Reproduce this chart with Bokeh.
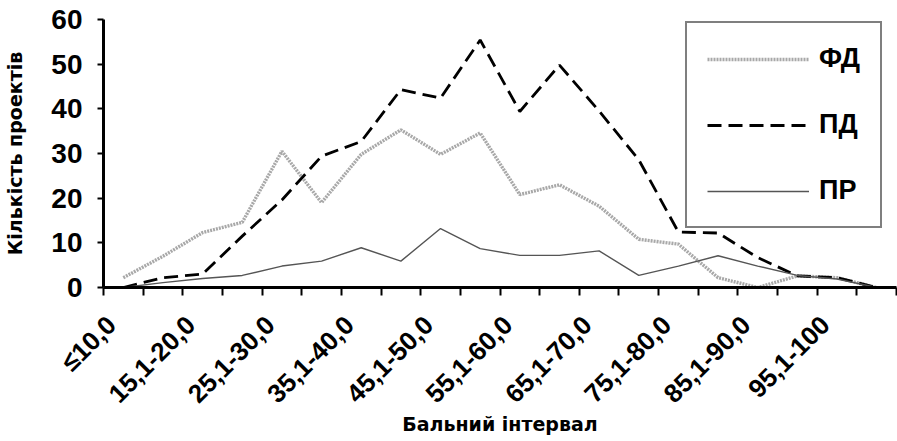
import math
from bokeh.plotting import figure
from bokeh.models import Range1d, FixedTicker, LinearAxis, Legend, LegendItem
from bokeh.embed import file_html
from bokeh.resources import INLINE

# Score intervals (x categories)
categories = ["≤10,0", "10,1-15,0", "15,1-20,0", "20,1-25,0", "25,1-30,0",
              "30,1-35,0", "35,1-40,0", "40,1-45,0", "45,1-50,0", "50,1-55,0",
              "55,1-60,0", "60,1-65,0", "65,1-70,0", "70,1-75,0", "75,1-80,0",
              "80,1-85,0", "85,1-90,0", "90,1-95,0", "95,1-100", ">100"]

# Number of projects per interval
fd = [2.2, 7.0, 12.3, 14.6, 30.5, 19.0, 29.8, 35.3, 29.8, 34.6,
      20.8, 23.0, 18.2, 10.8, 9.7, 2.2, 0.0, 2.6, 2.2, 0.0]
pdd = [0.0, 2.2, 3.0, 11.5, 19.6, 29.4, 32.7, 44.3, 42.4, 55.4,
       39.4, 49.8, 39.5, 28.6, 12.4, 12.2, 6.7, 2.6, 2.2, 0.0]
pr = [0.0, 1.1, 2.0, 2.7, 4.8, 5.9, 8.9, 5.9, 13.2, 8.7,
      7.2, 7.2, 8.2, 2.7, 4.8, 7.1, 4.8, 2.7, 1.9, 0.0]

series_names = ["ФД", "ПД", "ПР"]
y_ticks = [0, 10, 20, 30, 40, 50, 60]
label_every = 2

n = len(categories)
xs = list(range(n))

p = figure(width=897, height=438, output_backend="svg", toolbar_location=None,
           x_range=Range1d(-0.5, n - 0.5), y_range=Range1d(0, 60),
           min_border_left=103, min_border_right=1, min_border_top=19,
           min_border_bottom=150)
p.xgrid.visible = False
p.ygrid.visible = False
p.outline_line_color = None
p.background_fill_color = "white"

r_fd = p.line(xs, fd, line_color="#a8a8a8", line_width=3.4, line_dash="2 1")
r_pd = p.line(xs, pdd, line_color="black", line_width=2.8, line_dash="14 7")
r_pr = p.line(xs, pr, line_color="#555555", line_width=1.4)

# y axis
ya = p.yaxis[0]
ya.ticker = FixedTicker(ticks=y_ticks)
ya.axis_line_width = 3
ya.axis_line_color = "black"
ya.major_tick_line_color = "black"
ya.major_tick_line_width = 2
ya.major_tick_out = 6
ya.major_tick_in = 0
ya.minor_tick_out = 0
ya.minor_tick_in = 0
ya.major_label_standoff = 15
ya.major_label_text_color = "black"
ya.major_label_text_font = "Liberation Sans"
ya.major_label_text_font_style = "bold"
ya.major_label_text_font_size = "28px"
ya.axis_label = "Кількість проектів"
ya.axis_label_text_color = "black"
ya.axis_label_text_font = "DejaVu Sans"
ya.axis_label_text_font_style = "bold"
ya.axis_label_text_font_size = "19px"
ya.axis_label_standoff = 22

# x axis: tick marks between categories
xa = p.xaxis[0]
xa.ticker = FixedTicker(ticks=[i - 0.5 for i in range(n + 1)])
xa.axis_line_width = 3
xa.axis_line_color = "black"
xa.major_tick_line_color = "black"
xa.major_tick_line_width = 2
xa.major_tick_out = 8
xa.major_tick_in = 0
xa.minor_tick_out = 0
xa.minor_tick_in = 0
xa.major_label_text_font_size = "0px"
xa.major_label_text_alpha = 0
xa.major_label_standoff = 0

# second x axis: category labels (every second category)
lab_idx = list(range(0, n, label_every))
lab_ticks = [i - 0.3 for i in lab_idx]
ax2 = LinearAxis(ticker=FixedTicker(ticks=lab_ticks),
                 major_label_overrides={t: categories[i] for t, i in zip(lab_ticks, lab_idx)},
                 major_label_orientation=math.pi / 4,
                 major_tick_out=0, major_tick_in=0,
                 minor_tick_out=0, minor_tick_in=0,
                 axis_line_color=None,
                 major_label_standoff=25,
                 major_label_text_color="black",
                 major_label_text_font="Liberation Sans",
                 major_label_text_font_style="bold",
                 major_label_text_font_size="26px",
                 axis_label="Бальний інтервал",
                 axis_label_text_color="black",
                 axis_label_text_font="DejaVu Sans",
                 axis_label_text_font_style="bold",
                 axis_label_text_font_size="19px",
                 axis_label_standoff=-9)
p.add_layout(ax2, "below")

legend = Legend(items=[LegendItem(label=series_names[0], renderers=[r_fd]),
                       LegendItem(label=series_names[1], renderers=[r_pd]),
                       LegendItem(label=series_names[2], renderers=[r_pr])],
                location=(582, 59), border_line_color="black",
                border_line_width=2.5, glyph_width=102, glyph_height=30,
                label_height=30, spacing=35, padding=20, label_standoff=10,
                label_text_color="black",
                label_text_font="Liberation Sans", label_text_font_style="bold",
                label_text_font_size="27px", background_fill_alpha=1, margin=0)
p.add_layout(legend)

open("out.html", "w").write(file_html(p, INLINE))
